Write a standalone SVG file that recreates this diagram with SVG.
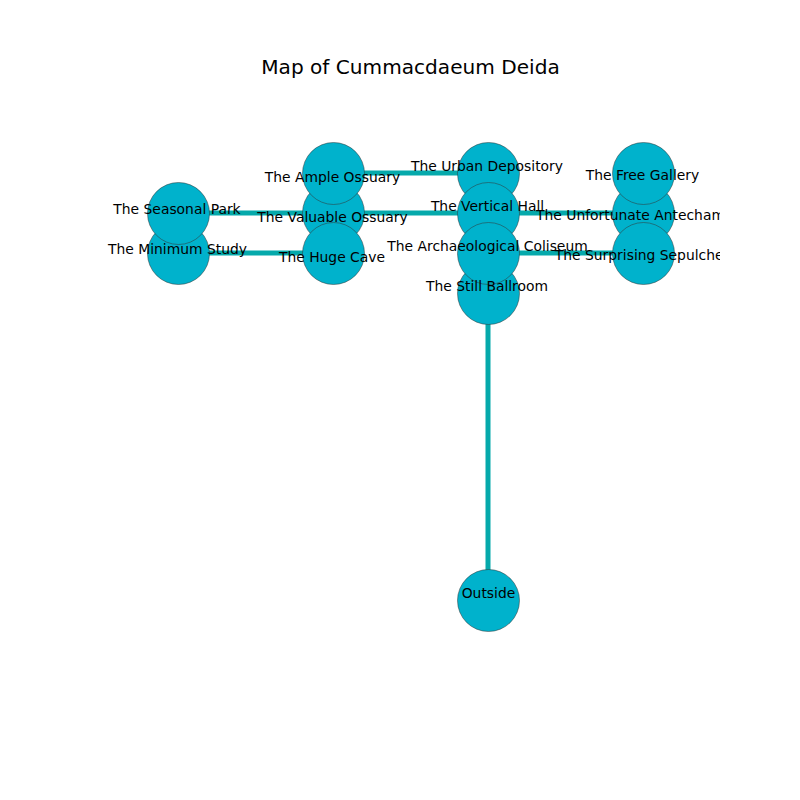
<svg xmlns="http://www.w3.org/2000/svg" width="800" height="800" viewBox="0 0 800 800">
<style>
text{font-family:"DejaVu Sans",sans-serif;fill:#000;text-anchor:middle}
.l{font-size:13.89px}
.t{font-size:20.1px}
.e{stroke:#05a9ab;stroke-width:5;fill:none}
.n{fill:#00b2cc;stroke:#333;stroke-width:.6;stroke-opacity:.85}
</style>
<defs><clipPath id="axes"><rect x="80" y="96" width="640" height="616"/></clipPath></defs>
<rect width="800" height="800" fill="#fff"/>
<text class="t" x="410.5" y="74">Map of Cummacdaeum Deida</text>
<g id="connectors">
<line class="e" x1="333.5" y1="173" x2="488" y2="173"/>
<line class="e" x1="178.5" y1="213" x2="643.5" y2="213"/>
<line class="e" x1="178.5" y1="253" x2="333.5" y2="253"/>
<line class="e" x1="488" y1="253" x2="643.5" y2="253"/>
<line class="e" x1="488" y1="293" x2="488" y2="600"/>
</g>
<g id="node-valuable-ossuary"><circle class="n" cx="333.5" cy="213" r="31"/></g>
<g id="node-ample-ossuary"><circle class="n" cx="333.5" cy="173.5" r="31"/></g>
<g id="node-huge-cave"><circle class="n" cx="333.5" cy="253.5" r="31"/></g>
<g id="node-minimum-study"><circle class="n" cx="178.5" cy="253.5" r="31"/></g>
<g id="node-seasonal-park"><circle class="n" cx="178.5" cy="213.5" r="31"/></g>
<g id="node-urban-depository"><circle class="n" cx="488.5" cy="173.5" r="31"/></g>
<g id="node-still-ballroom"><circle class="n" cx="488.5" cy="293.5" r="31"/></g>
<g id="node-vertical-hall"><circle class="n" cx="488.5" cy="213.5" r="31"/></g>
<g id="node-archaeological-coliseum"><circle class="n" cx="488.5" cy="253.5" r="31"/></g>
<g id="node-unfortunate-antechamber"><circle class="n" cx="643.5" cy="213.5" r="31"/></g>
<g id="node-free-gallery"><circle class="n" cx="643.5" cy="173.5" r="31"/></g>
<g id="node-surprising-sepulcher"><circle class="n" cx="643.5" cy="253.5" r="31"/></g>
<g id="node-outside"><circle class="n" cx="488.5" cy="600.5" r="31"/></g>
<g id="labels" clip-path="url(#axes)">
<text class="l" x="332.5" y="182">The Ample Ossuary</text>
<text class="l" x="332.5" y="222">The Valuable Ossuary</text>
<text class="l" x="332" y="262">The Huge Cave</text>
<text class="l" x="177" y="214">The Seasonal Park</text>
<text class="l" x="177.5" y="254">The Minimum Study</text>
<text class="l" x="487" y="171">The Urban Depository</text>
<text class="l" x="487.5" y="211">The Vertical Hall</text>
<text class="l" x="487.5" y="251">The Archaeological Coliseum</text>
<text class="l" x="487" y="291">The Still Ballroom</text>
<text class="l" x="642.5" y="180">The Free Gallery</text>
<text class="l" x="642" y="220">The Unfortunate Antechamber</text>
<text class="l" x="642" y="260">The Surprising Sepulcher</text>
<text class="l" x="488.5" y="598">Outside</text>
</g>
</svg>
